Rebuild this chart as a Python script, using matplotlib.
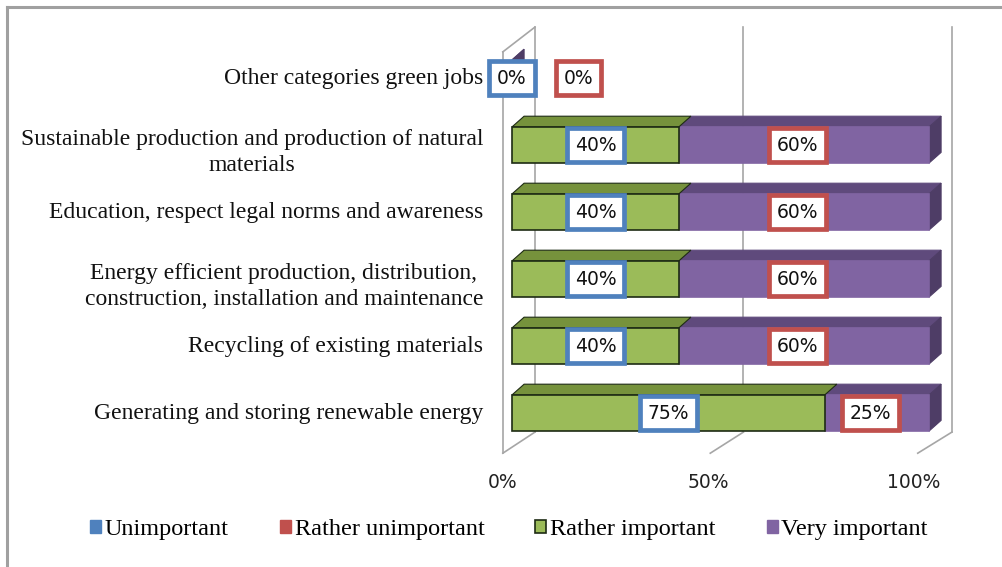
import matplotlib.pyplot as plt
from matplotlib.patches import Rectangle, Polygon, Patch

# data (bottom to top)
categories = [
    "Generating and storing renewable energy",
    "Recycling of existing materials",
    "Energy efficient production, distribution,\nconstruction, installation and maintenance",
    "Education, respect legal norms and awareness",
    "Sustainable production and production of natural\nmaterials",
    "Other categories green jobs",
]
unimportant = [0, 0, 0, 0, 0, 0]
rather_unimportant = [0, 0, 0, 0, 0, 0]
rather_important = [75, 40, 40, 40, 40, 0]
very_important = [25, 60, 60, 60, 60, 0]
series_names = ["Unimportant", "Rather unimportant", "Rather important", "Very important"]
tick_vals = [0, 50, 100]
tick_labels = ["0%", "50%", "100%"]

# colours
BLUE = "#4F81BD"
RED = "#C0504D"
GREEN = "#9BBB59"
GREEN_TOP = "#76923C"
PURPLE = "#8064A2"
PURPLE_TOP = "#5F4A7C"
PURPLE_SIDE = "#4E3D66"
EDGE = "#1E2B14"
WALL = "#A6A6A6"

SERIF = "Liberation Serif"
SANS = "DejaVu Sans"

fig = plt.figure(figsize=(10.02, 5.67), dpi=100)
ax = fig.add_axes([512 / 1002, 1 - 460 / 567, 417 / 1002, 440 / 567])
ax.set_xlim(0, 100)
ax.set_ylim(-0.7015, 5.866)
ax.axis("off")

# outer frame (top and left only, chart is cropped)
fig.add_artist(plt.Line2D([7 / 1002, 7 / 1002], [0, 1 - 7 / 567], color="#A0A0A0", lw=2.2))
fig.add_artist(plt.Line2D([7 / 1002, 1], [1 - 7 / 567, 1 - 7 / 567], color="#A0A0A0", lw=2.2))

# 3d offsets (data units)
dx, dy = 2.9, 0.16
h = 0.54
front_dx, back_dx = -2.2, 5.5
floor_front, floor_back = -0.60, -0.285
wall_top_back, wall_top_front = 5.76, 5.39

# walls and floor
for v in tick_vals:
    xf = v * 0.995 + front_dx
    xb = v + back_dx
    ax.plot([xf, xb], [floor_front, floor_back], color=WALL, lw=1.2, clip_on=False, zorder=1)
    ax.plot([xb, xb], [floor_back, wall_top_back], color=WALL, lw=1.2, clip_on=False, zorder=1)
ax.plot([front_dx, front_dx], [floor_front, wall_top_front], color=WALL, lw=1.2, clip_on=False, zorder=1)
ax.plot([front_dx, back_dx], [wall_top_front, wall_top_back], color=WALL, lw=1.2, clip_on=False, zorder=1)


def bar3d(left, width, yc, face, top, side=None, edge=None, z=3):
    yb, yt = yc - h / 2, yc + h / 2
    ax.add_patch(Polygon([(left, yt), (left + width, yt), (left + width + dx, yt + dy), (left + dx, yt + dy)],
                         closed=True, fc=top, ec=edge or top, lw=0.8, zorder=z, clip_on=False))
    if side is not None:
        r = left + width
        ax.add_patch(Polygon([(r, yb), (r + dx, yb + dy), (r + dx, yt + dy), (r, yt)],
                             closed=True, fc=side, ec=side, lw=0.8, zorder=z, clip_on=False))
    ax.add_patch(Rectangle((left, yb), width, h, fc=face, ec=edge or face, lw=1.2, zorder=z + 0.5, clip_on=False))


def value_box(x, y, txt, color):
    ax.text(x, y, txt, ha="center", va="center", fontsize=13.5, family=SANS, color="#111111", zorder=10,
            bbox=dict(boxstyle="square,pad=0.42", fc="white", ec=color, lw=3.4), clip_on=False)


for i, cat in enumerate(categories):
    g = rather_important[i]
    p = very_important[i]
    bar3d(g, p, i, PURPLE, PURPLE_TOP, side=PURPLE_SIDE, z=3)
    if g > 0:
        bar3d(0, g, i, GREEN, GREEN_TOP, edge=EDGE, z=4)
    # category label
    ax.text(-6.9, i - (0.11 if "\n" in cat else 0), cat, ha="right", va="center", multialignment="center",
            fontsize=17, family=SERIF, color="#111111", linespacing=1.35, clip_on=False)
    # value labels
    if g + p > 0:
        value_box(g / 2, i, f"{g}%", BLUE)
        value_box(g + p / 2 - 1.5, i, f"{p}%", RED)
    else:
        value_box(0, i, f"{unimportant[i]}%", BLUE)
        value_box(16, i, f"{rather_unimportant[i]}%", RED)

# x tick labels on the floor front edge
for v, lab in zip(tick_vals, tick_labels):
    ax.text(v * 0.985 - 2.2, -1.03, lab, ha="center", va="center", fontsize=13.5, family=SANS,
            color="#222222", clip_on=False)

# legend
handles = [Patch(fc=BLUE, ec=BLUE), Patch(fc=RED, ec=RED), Patch(fc=GREEN, ec=EDGE, lw=1.2), Patch(fc=PURPLE, ec=PURPLE)]
fig.legend(handles, series_names, loc="center", bbox_to_anchor=(509 / 1002, 1 - 530 / 567), ncol=4,
           frameon=False, prop={"family": SERIF, "size": 17.5}, handlelength=0.45, handleheight=0.45,
           handletextpad=0.15, columnspacing=2.1)

fig.savefig("out.png", dpi=100)
